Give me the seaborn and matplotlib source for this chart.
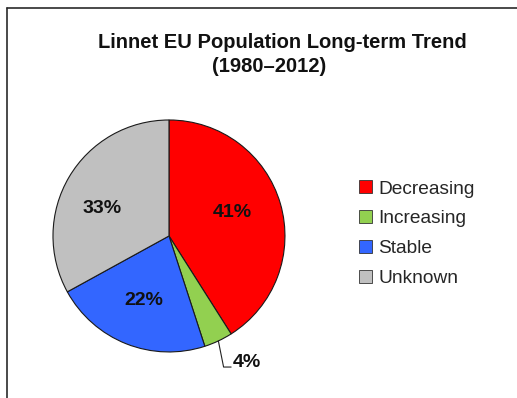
import matplotlib
matplotlib.use("Agg")
import matplotlib.pyplot as plt
from matplotlib.lines import Line2D
import numpy as np
import seaborn as sns

# Long-term trend shares of Linnet populations across the EU
categories = ["Decreasing", "Increasing", "Stable", "Unknown"]
shares = [41, 4, 22, 33]
colors = ["#FF0000", "#92D050", "#3366FF", "#C0C0C0"]
title_line1 = "Linnet EU Population Long-term Trend"
title_line2 = "(1980\u20132012)"

sns.set_theme(style="white")
plt.rcParams["font.family"] = ["Liberation Sans", "DejaVu Sans"]

fig = plt.figure(figsize=(5.17, 3.98), dpi=100)
fig.patch.set_facecolor("white")

# axes sized so that the unit-radius pie fills it exactly
ax = fig.add_axes([0.1025, 0.1156, 0.4487, 0.583])

wedges, texts, autotexts = ax.pie(
    shares,
    colors=colors,
    startangle=90,
    counterclock=False,
    radius=1,
    autopct=lambda p: f"{p:.0f}%",
    pctdistance=0.6,
    wedgeprops=dict(edgecolor="#1a1a1a", linewidth=0.8),
    textprops=dict(fontsize=14, fontweight="bold", color="#111111"),
)
ax.set_xlim(-1, 1)
ax.set_ylim(-1, 1)
ax.set_aspect("equal")
ax.axis("off")

# fine placement of the in-slice percentage labels
autotexts[0].set_position((0.545, 0.20))
autotexts[3].set_position((-0.58, 0.24))

# the small slice gets its label outside with an elbow leader line
small = int(np.argmin(shares))
w = wedges[small]
mid = np.deg2rad((w.theta1 + w.theta2) / 2)
autotexts[small].set_visible(False)
x0, y0 = np.cos(mid), np.sin(mid)
elbow_y = -1.13
ax.plot([x0, x0 + 0.045, x0 + 0.11], [y0, elbow_y, elbow_y],
        color="#222222", lw=0.8, clip_on=False)
ax.text(x0 + 0.125, elbow_y, f"{shares[small]}%", ha="left", va="baseline",
        fontsize=14, fontweight="bold", color="#111111", clip_on=False)

# title in two centred lines
fig.text(282 / 517, 1 - 48 / 398, title_line1, ha="center", va="baseline",
         fontsize=14.5, fontweight="bold", color="#111111")
fig.text(269 / 517, 1 - 72 / 398, title_line2, ha="center", va="baseline",
         fontsize=14.5, fontweight="bold", color="#111111")

# legend with small square keys
leg = fig.legend(
    wedges, categories,
    loc="upper left",
    bbox_to_anchor=(346 / 517, 1 - 167 / 398),
    frameon=False,
    fontsize=13.8,
    handlelength=0.65,
    handleheight=0.65,
    handletextpad=0.35,
    labelspacing=0.66,
    borderpad=0.2,
)
for h in leg.legend_handles:
    h.set_linewidth(0.6)
    h.set_edgecolor("#333333")

# chart-area border (extends past the right and bottom edges)
fig.add_artist(Line2D([7 / 517, 7 / 517], [-0.05, 1 - 8 / 398],
                      transform=fig.transFigure, color="#2a2a2a", lw=1.2))
fig.add_artist(Line2D([7 / 517, 1.05], [1 - 8 / 398, 1 - 8 / 398],
                      transform=fig.transFigure, color="#2a2a2a", lw=1.2))

fig.savefig("out.png", dpi=100, facecolor="white")
